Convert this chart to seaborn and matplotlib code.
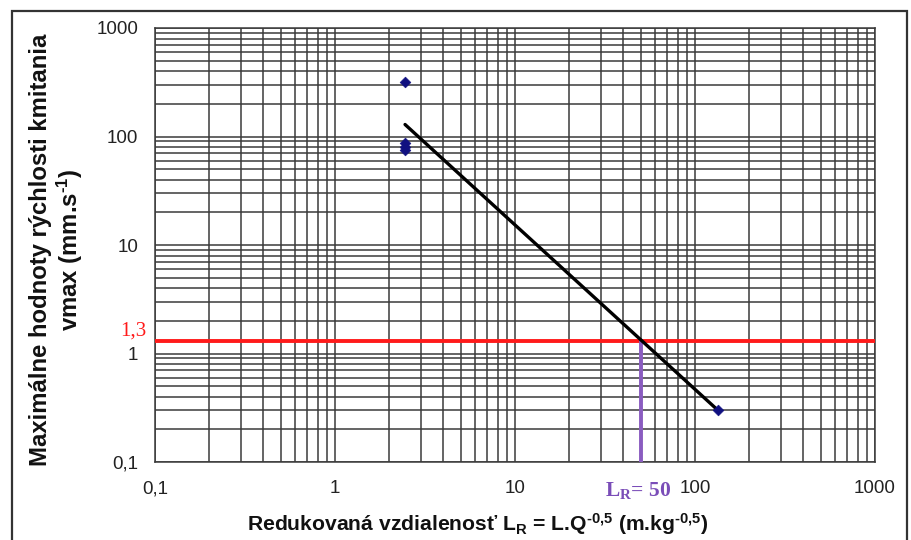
import matplotlib
matplotlib.use("Agg")
import matplotlib.pyplot as plt
import seaborn as sns
import pandas as pd
from matplotlib.patches import Rectangle
from matplotlib.ticker import LogLocator, FixedLocator, FixedFormatter, NullFormatter

# ---- data ----
points_x = [2.45, 2.45, 2.45, 2.45, 134]
points_y = [321, 88, 80, 75, 0.3]
fit_x = [2.45, 134]
fit_y = [129, 0.3]
limit_v = 1.3
limit_lr = 50
major_ticks = [0.1, 1, 10, 100, 1000]
tick_labels = ["0,1", "1", "10", "100", "1000"]

sns.set_style("white")
plt.rcParams['font.family'] = ['Liberation Sans', 'DejaVu Sans']
plt.rcParams['mathtext.default'] = 'regular'

fig = plt.figure(figsize=(9.11, 5.40), dpi=100)
ax = fig.add_axes([155/911, 1-462/540, 720/911, 434/540])

grid_c = '#3a3a3a'
ax.set_xscale('log')
ax.set_yscale('log')
ax.set_xlim(0.1, 1000)
ax.set_ylim(0.1, 1000)

ax.xaxis.set_major_locator(FixedLocator(major_ticks))
ax.yaxis.set_major_locator(FixedLocator(major_ticks))
ax.xaxis.set_major_formatter(FixedFormatter(tick_labels))
ax.yaxis.set_major_formatter(FixedFormatter(tick_labels))
ax.xaxis.set_minor_locator(LogLocator(base=10, subs=range(2, 10), numticks=20))
ax.yaxis.set_minor_locator(LogLocator(base=10, subs=range(2, 10), numticks=20))
ax.xaxis.set_minor_formatter(NullFormatter())
ax.yaxis.set_minor_formatter(NullFormatter())
ax.grid(True, which='both', color=grid_c, linewidth=1.1)
ax.tick_params(which='major', direction='out', length=5, width=1, color='#555555',
               labelsize=13.5, pad=7, labelcolor='#222222')
ax.tick_params(which='minor', length=0)
ax.tick_params(axis='x', pad=8)
for s in ax.spines.values():
    s.set_color(grid_c)
    s.set_linewidth(1.1)

# red limit line and purple drop line
ax.axhline(limit_v, color='#ff1a1a', linewidth=2.8, zorder=3)
ax.plot([limit_lr, limit_lr], [0.1, limit_v], color='#8a5cc0', linewidth=2.8, zorder=3)

# fit line
sns.lineplot(x=fit_x, y=fit_y, ax=ax, color='black', linewidth=2.4, zorder=4,
             estimator=None, sort=False)
# data points
df = pd.DataFrame({'x': points_x, 'y': points_y})
sns.scatterplot(data=df, x='x', y='y', ax=ax, color='#101080', marker='D', s=30,
                edgecolor='#101080', zorder=5)

ax.set_xlabel("Redukovaná vzdialenosť L$_R$ = L.Q$^{\u20100{,}5}$ (m.kg$^{\u20100{,}5}$)",
              fontsize=15.2, fontweight='bold', color='#111111')
ax.xaxis.set_label_coords((478-155)/720, -(524-462)/434)
ax.xaxis.label.set_va('center')
ax.set_ylabel("Maximálne hodnoty rýchlosti kmitania\nvmax (mm.s$^{\u20101}$)",
              fontsize=17.2, fontweight='bold', color='#111111',
              linespacing=1.1)
ax.yaxis.set_label_coords(-(155-57)/720, (462-250)/434)
ax.yaxis.label.set_va('center')

# annotations
fig.text(146/911, 1-331/540, "1,3", color='#ff1a1a', fontsize=15,
         family=['Liberation Serif'], ha='right', va='center')
ax.text(limit_lr * 0.97, 0.1 * 10**(-0.26), "L$_R$= 50", color='#7a4db8',
        fontsize=15.5, fontweight='bold', family=['Liberation Serif'],
        ha='center', va='center')

# frame around the figure
fig.patches.append(Rectangle((12/911, -0.05), 895/911, 1 - 11/540 + 0.05,
                             transform=fig.transFigure, fill=False,
                             edgecolor='#333333', linewidth=1.6))

fig.savefig("out.png", dpi=100)
